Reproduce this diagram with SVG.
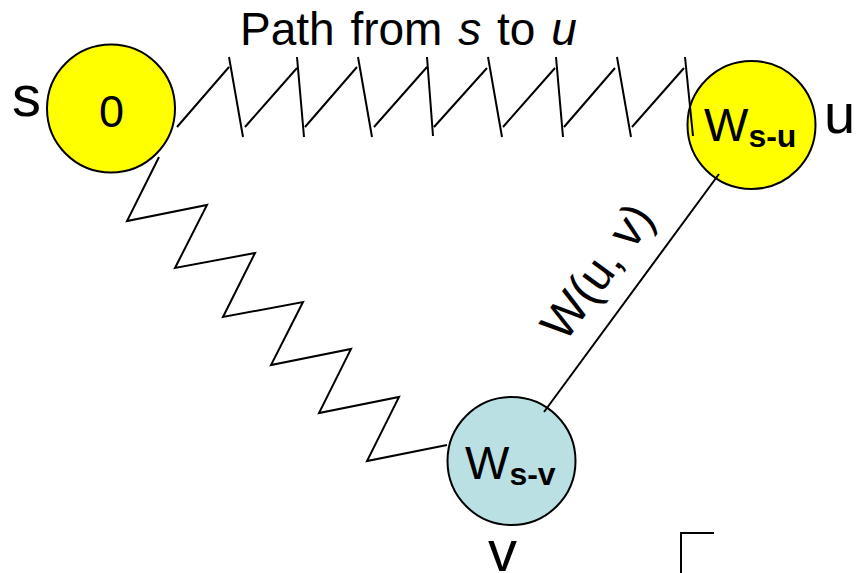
<svg xmlns="http://www.w3.org/2000/svg" width="856" height="573" viewBox="0 0 856 573">
<style>
.node{stroke:#000;stroke-width:2}
.yel{fill:#FFFF00}
.blu{fill:#BAE0E3}
.t{font-family:"Liberation Sans",Arial,sans-serif;fill:#000}
.edge{fill:none;stroke:#000;stroke-width:2;stroke-linejoin:miter}
</style>
<rect width="856" height="573" fill="#fff"/>
<text class="t" x="240" y="45" font-size="46" word-spacing="3">Path from <tspan font-style="italic">s</tspan> to <tspan font-style="italic">u</tspan></text>
<g id="node-s">
<circle class="node yel" cx="111" cy="108.5" r="64"/>
<text class="t" x="111.5" y="126.5" font-size="45" text-anchor="middle">0</text>
<text class="t" x="12" y="116" font-size="58">s</text>
</g>
<g id="node-u">
<circle class="node yel" cx="751.5" cy="125" r="64"/>
<text class="t" x="704" y="141" font-size="47">W<tspan font-weight="bold" font-size="32" dy="6">s-u</tspan></text>
<text class="t" x="824" y="133" font-size="56">u</text>
</g>
<g id="node-v">
<circle class="node blu" cx="511.5" cy="461" r="64"/>
<text class="t" x="465" y="479" font-size="47">W<tspan font-weight="bold" font-size="32" dy="6">s-v</tspan></text>
<text class="t" x="488" y="571" font-size="58">v</text>
</g>
<g id="connectors">
<path class="edge" d="M177,127L229,67M229,57L243,137M245,127L297,68M297,57L304,137M305,127L357,67M358,57L372,137M374,127L427,67M427,57L433,136M434,127L487,68M488,57L502,137M503,127L555,68M556,57L563,137M564,127L615,68M617,57L631,137M632,127L684,68M685,57L693,136"/>
<polyline class="edge" points="159,157 127,221 207,205 175,268 255,253 223,317 303,302 271,365 351,349 319,413 399,397 367,461 447,445"/>
<line class="edge" x1="719" y1="174" x2="544" y2="412"/>
<text class="t" font-size="48" text-anchor="middle" transform="translate(610.5,281) rotate(-53.8)">W(u, v)</text>
</g>
<path d="M681,573V533H714" fill="none" stroke="#000" stroke-width="2"/>
</svg>
